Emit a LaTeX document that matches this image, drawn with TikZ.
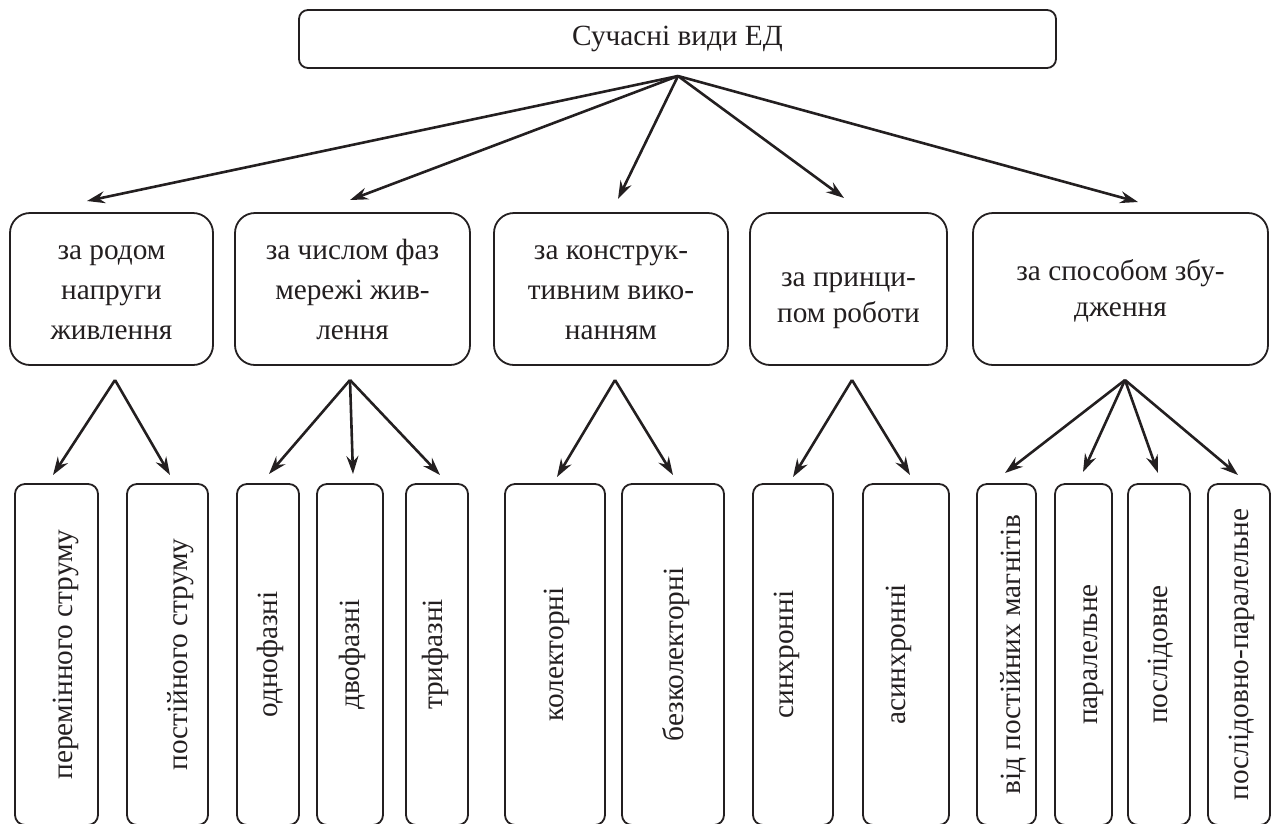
\documentclass[tikz,border=0pt]{standalone}
\usepackage{fontspec}
\setmainfont{Liberation Serif}
\usetikzlibrary{arrows.meta}
\definecolor{ink}{HTML}{231F20}
\newcommand{\firstline}[1]{\rule{0pt}{#1}}
\begin{document}
\begin{tikzpicture}[x=1pt,y=-1pt,
  base/.style={draw=ink, line width=1.8pt, inner sep=0pt, outer sep=0pt, text=ink,
    font=\fontsize{29.3}{40}\selectfont, align=center},
  topbox/.style={base, rounded corners=9pt},
  midbox/.style={base, rounded corners=20pt, minimum height=152pt},
  twoline/.style={font=\fontsize{29.3}{36}\selectfont},
  botbox/.style={base, rounded corners=10pt, rotate=90, minimum width=341pt},
  th/.style={text height=#1, text depth=0pt},
  arr/.style={draw=ink, line width=2.6pt, -{Stealth[length=18pt,width=12pt,inset=6pt]}}
]
\useasboundingbox (0,0) rectangle (1276,823);

\node[topbox, minimum width=757pt, minimum height=58pt] (top) at (677.5,39) {Сучасні види ЕД};

\node[midbox, minimum width=203pt] (m1) at (111.5,289) {\firstline{32pt}за родом\\напруги\\живлення\strut};
\node[midbox, minimum width=235pt] (m2) at (352.5,289) {\firstline{32pt}за числом фаз\\мережі жив-\\лення\strut};
\node[midbox, minimum width=234pt] (m3) at (611,289) {\firstline{33pt}за конструк-\\тивним вико-\\нанням\strut};
\node[midbox, twoline, minimum width=197pt] (m4) at (848.5,289) {\firstline{42pt}за принци-\\пом роботи\strut};
\node[midbox, twoline, minimum width=295pt] (m5) at (1120.5,289) {\firstline{29pt}за способом збу-\\дження\strut};

\node[botbox, th=31pt, minimum height=83pt] (a) at (56.5,654.5) {перемінного струму};
\node[botbox, th=39pt, minimum height=81pt] (b) at (167.5,654.5) {постійного струму};
\node[botbox, th=18pt, minimum height=62pt] (c) at (268,654.5) {однофазні};
\node[botbox, th=18pt, minimum height=66pt] (d) at (350,654.5) {двофазні};
\node[botbox, th=11pt, minimum height=62pt] (e) at (437,654.5) {трифазні};
\node[botbox, th=17pt, minimum height=100pt] (f) at (555,654.5) {колекторні};
\node[botbox, th=21pt, minimum height=102pt] (g) at (673,654.5) {безколекторні};
\node[botbox, th=1pt, minimum height=80pt] (h) at (793,654.5) {синхронні};
\node[botbox, text height=0pt, text depth=1pt, minimum height=86pt] (i) at (906,654.5) {асинхронні};
\node[botbox, th=28pt, minimum height=59pt] (j) at (1006.5,654.5) {від постійних магнітів};
\node[botbox, th=27pt, minimum height=57pt] (k) at (1083.5,654.5) {паралельне};
\node[botbox, th=16pt, minimum height=62pt] (l) at (1159,654.5) {послідовне};
\node[botbox, th=19pt, minimum height=62pt] (m) at (1239,654.5) {послідовно-паралельне};

% origin and arrow ends
\coordinate (o) at (678,76);
\coordinate (t1) at (87,201);
\coordinate (t2) at (350,200);
\coordinate (t3) at (618,199);
\coordinate (t4) at (844,198);
\coordinate (t5) at (1138,202);

\coordinate (p1) at (115,380);
\coordinate (p2) at (350,380);
\coordinate (p3) at (615,380);
\coordinate (p4) at (852,380);
\coordinate (p5) at (1125,380);

\coordinate (ea) at (53,475);
\coordinate (eb) at (170,475);
\coordinate (ec) at (269,474);
\coordinate (ed) at (353,474);
\coordinate (ee) at (440,475);
\coordinate (ef) at (557,477);
\coordinate (eg) at (673,475);
\coordinate (eh) at (793,477);
\coordinate (ei) at (910,475);
\coordinate (ej) at (1005,473);
\coordinate (ek) at (1083,472);
\coordinate (el) at (1158,473);
\coordinate (em) at (1238,475);

\foreach \t in {t1,t2,t3,t4,t5} \draw[arr] (o) -- (\t);

\draw[arr] (p1) -- (ea);
\draw[arr] (p1) -- (eb);
\draw[arr] (p2) -- (ec);
\draw[arr] (p2) -- (ed);
\draw[arr] (p2) -- (ee);
\draw[arr] (p3) -- (ef);
\draw[arr] (p3) -- (eg);
\draw[arr] (p4) -- (eh);
\draw[arr] (p4) -- (ei);
\draw[arr] (p5) -- (ej);
\draw[arr] (p5) -- (ek);
\draw[arr] (p5) -- (el);
\draw[arr] (p5) -- (em);
\end{tikzpicture}
\end{document}
